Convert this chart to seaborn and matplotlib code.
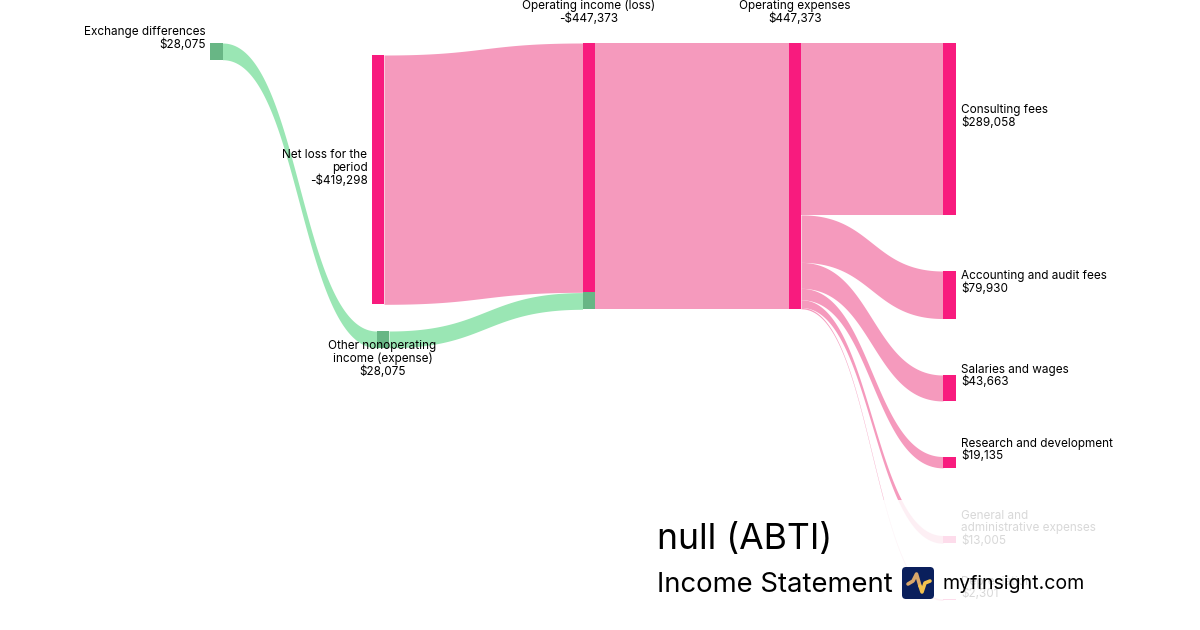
import matplotlib
matplotlib.use("Agg")
import matplotlib.pyplot as plt
from matplotlib.patches import FancyBboxPatch, Rectangle
import numpy as np
import seaborn as sns

# values
exchange = 28075
other_income = 28075
net_loss = 419298
operating_income = 447373
expense_names = ["Consulting fees", "Accounting and audit fees", "Salaries and wages",
                 "Research and development", "General and\nadministrative expenses", "Depreciation"]
expense_values = [289058, 79930, 43663, 19135, 13005, 2301]

# layout, in pixels
PX = 266 / 447373
expense_tops = [43, 271, 375, 456.5, 535.5, 599]
PINK, PINK_LINK = "#f81b7e", "#f59abd"
GREEN, GREEN_LINK = "#68b685", "#9ae6b4"
NODE_W = 12.5

sns.set_theme(style="white")
plt.rcParams["font.family"] = ["Inter", "DejaVu Sans"]

fig = plt.figure(figsize=(12, 6.3), dpi=100)
ax = fig.add_axes([0, 0, 1, 1])


def node(left, top, value, color):
    # one bar per node, so the native scale keeps the width in pixels
    sns.barplot(x=[left + NODE_W / 2], y=[value * PX], bottom=top, width=NODE_W, native_scale=True,
                color=color, saturation=1, errorbar=None, linewidth=0, ax=ax, zorder=3)


def link(x0, y0, x1, y1, value, color, z=1):
    t = np.linspace(0, 1, 200)
    xc = (x0 + x1) / 2
    xs = (1 - t) ** 3 * x0 + 3 * (1 - t) ** 2 * t * xc + 3 * (1 - t) * t ** 2 * xc + t ** 3 * x1
    ys = y0 + (y1 - y0) * (3 * t ** 2 - 2 * t ** 3)
    ax.fill_between(xs, ys, ys + value * PX, color=color, lw=0, zorder=z)


def label(x, y, s, ha="left", color="black"):
    ax.text(x, y, s, ha=ha, va="top", fontsize=8.45, linespacing=1.05, color=color, zorder=6)


col1, col2a, col2b, col3, col4, col5 = 210, 371.5, 376.5, 582.5, 788.5, 943

# links
link(col2a + NODE_W, 55, col3, 43, net_loss, PINK_LINK)
link(col3 + NODE_W, 43, col4, 43, operating_income, PINK_LINK)
src = 43
for top, v in zip(expense_tops, expense_values):
    link(col4 + NODE_W, src, col5, top, v, PINK_LINK)
    src += v * PX
link(col1 + NODE_W, 43, col2b, 331, exchange, GREEN_LINK, z=2)
link(col2b + NODE_W, 331, col3, 292.6, other_income, GREEN_LINK, z=2)

# nodes
node(col1, 43, exchange, GREEN)
node(col2a, 55, net_loss, PINK)
node(col2b, 331, other_income, GREEN)
node(col3, 43, net_loss, PINK)
node(col3, 43 + net_loss * PX, other_income, GREEN)
node(col4, 43, operating_income, PINK)
for top, v in zip(expense_tops, expense_values):
    node(col5, top, v, PINK)

# labels
label(206, 26, f"Exchange differences\n${exchange:,}", ha="right")
label(367.5, 149.5, f"Net loss for the\nperiod\n-${net_loss:,}", ha="right")
label(382.5, 340.5, f"Other nonoperating\nincome (expense)\n${other_income:,}", ha="center")
label(589, 0, f"Operating income (loss)\n-${operating_income:,}", ha="center")
label(795, 0, f"Operating expenses\n${operating_income:,}", ha="center")
label_tops = [104, 270.5, 363.5, 437.5, 510, 575.5]
for name, v, y in zip(expense_names, expense_values, label_tops):
    label(961, y, f"{name}\n${v:,}")

# translucent panel behind the title, fades the lower right corner
ax.add_patch(Rectangle((640, 500), 560, 130, fc="white", ec="none", alpha=0.85, zorder=7))
ax.text(657, 540, "null (ABTI)", fontsize=25.6, va="center", ha="left", color="black", zorder=8)
ax.text(657, 585, "Income Statement", fontsize=19.75, va="center", ha="left", color="black", zorder=8)
ax.text(942, 584, "myfinsight.com", fontsize=14.1, va="center", ha="left", color="black", zorder=8)

# logo
ax.add_patch(FancyBboxPatch((905, 570), 26, 26, boxstyle="round,pad=3,rounding_size=4",
                            fc="#0a1f5c", ec="none", zorder=8))
ax.plot([908, 913, 916.5, 920], [584, 581, 574, 586], color="#d9a76a", lw=2.6,
        solid_capstyle="round", solid_joinstyle="round", zorder=9)
ax.plot([920, 922, 925, 930], [586, 592, 583, 581], color="#f2c14e", lw=2.6,
        solid_capstyle="round", solid_joinstyle="round", zorder=9)

ax.set_xlim(0, 1200)
ax.set_ylim(630, 0)
ax.set_xticks([])
ax.set_yticks([])
ax.set_xlabel("")
ax.set_ylabel("")
sns.despine(ax=ax, left=True, bottom=True)
fig.savefig("out.png", dpi=100)
